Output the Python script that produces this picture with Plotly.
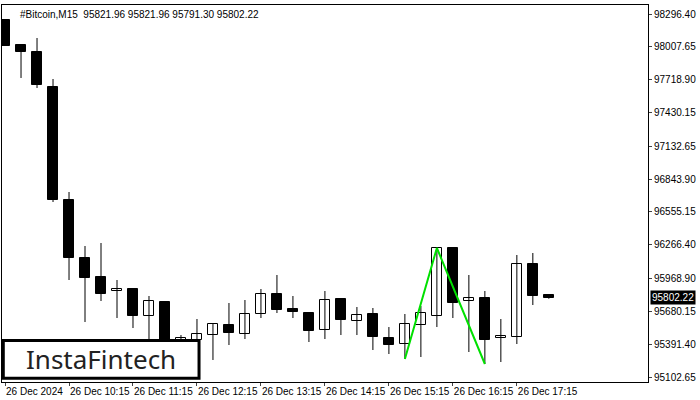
import plotly.graph_objects as go

opens  = [98243.6,98023.7,97962.1,97654.2,96660.0,96149.7,95982.6,95859.4,95877.0,95639.4,95762.6,95384.3,95428.3,95472.1,95560.0,95480.9,95657.0,95833.0,95701.0,95665.8,95516.1,95789.0,95595.4,95657.0,95445.7,95393.0,95560.0,95639.4,96237.7,95771.4,95797.8,95445.7,95454.5,96096.9,95821.96]
closes = [98014.9,97962.1,97671.8,96660.0,96149.7,95973.8,95833.0,95877.0,95639.4,95771.4,95340.3,95445.7,95480.9,95568.8,95489.7,95657.0,95833.0,95692.2,95674.6,95507.3,95780.2,95604.2,95648.2,95454.5,95384.3,95568.8,95665.8,96237.7,95753.8,95797.8,95428.3,95463.3,96096.9,95815.4,95802.22]
highs  = [98243.6,98023.7,98085.3,97724.6,96730.4,96255.3,96281.7,95956.2,95877.0,95815.4,95771.4,95472.1,95613.0,95568.8,95753.8,95780.2,95877.0,96000.1,95815.4,95665.8,95859.4,95789.0,95718.6,95709.8,95542.5,95657.0,95727.4,96237.7,96237.7,96000.1,95859.4,95613.0,96176.1,96193.7,95821.96]
lows   = [98014.9,97733.4,97645.4,96642.4,95956.2,95586.4,95771.4,95621.8,95533.7,95384.3,95252.4,95340.3,95296.3,95252.4,95384.3,95436.9,95621.8,95665.8,95621.8,95410.6,95436.9,95472.1,95472.1,95340.3,95305.1,95261.2,95278.7,95542.5,95621.8,95322.7,95217.2,95234.8,95393.0,95736.2,95791.30]
tick_idx = [0,4,8,12,16,20,24,28,32]
tick_labels = ["26 Dec 2024","26 Dec 10:15","26 Dec 11:15","26 Dec 12:15","26 Dec 13:15","26 Dec 14:15","26 Dec 15:15","26 Dec 16:15","26 Dec 17:15"]
y_ticks = [98296.40,98007.65,97718.90,97430.15,97132.65,96843.90,96555.15,96266.40,95968.90,95680.15,95391.40,95102.65]
pattern_x = [25,27,30]
pattern_y = [95261.2,96237.7,95217.2]
last_price = 95802.22

n = len(opens)
xs = list(range(n))
fig = go.Figure()
wx, wy = [], []
for i in xs:
    wx += [i, i, None]; wy += [lows[i], highs[i], None]
fig.add_trace(go.Scatter(x=wx, y=wy, mode="lines", line=dict(color="black", width=1), hoverinfo="skip"))
base = [min(o, c) for o, c in zip(opens, closes)]
h = [max(abs(c - o), 4) for o, c in zip(opens, closes)]
cols = ["white" if c >= o else "black" for o, c in zip(opens, closes)]
fig.add_trace(go.Bar(x=xs, y=h, base=base, width=0.62, marker=dict(color=cols, line=dict(color="black", width=1))))
fig.add_trace(go.Scatter(x=pattern_x, y=pattern_y, mode="lines", line=dict(color="#00e000", width=2)))
fig.add_hline(y=last_price, line=dict(color="black", width=1))

fig.update_layout(
    width=700, height=400, showlegend=False, plot_bgcolor="white", paper_bgcolor="white",
    margin=dict(l=2, r=52, t=5, b=18), bargap=0,
    font=dict(family="Liberation Sans", size=10, color="black"),
    xaxis=dict(range=[-0.19, 40.2], tickvals=tick_idx, ticktext=tick_labels, showgrid=False, zeroline=False,
               showline=True, mirror=True, linecolor="black", ticks="outside", ticklen=3,
               tickfont=dict(size=10), automargin=False, ticklabelposition="outside right", tickangle=0),
    yaxis=dict(range=[95058.8, 98375.6], side="right", tickvals=y_ticks, ticktext=[f"{v:.2f}" for v in y_ticks],
               showgrid=False, zeroline=False, showline=True, mirror=True, linecolor="black",
               ticks="outside", ticklen=3, tickfont=dict(size=10), automargin=False),
    shapes=[dict(type="rect", xref="paper", yref="paper", x0=0.002, x1=0.305, y0=0.01, y1=0.11,
                 fillcolor="white", line=dict(color="black", width=3), layer="above")],
    annotations=[
        dict(xref="paper", yref="paper", x=0.025, y=0.995, xanchor="left", yanchor="top", showarrow=False,
             text="#Bitcoin,M15  95821.96 95821.96 95791.30 95802.22", font=dict(size=10)),
        dict(xref="paper", yref="paper", x=0.153, y=0.06, xanchor="center", yanchor="middle", showarrow=False,
             text="InstaFintech", font=dict(size=26, color="#222", family="Noto Sans")),
        dict(xref="paper", yref="y", x=1.003, y=last_price, xanchor="left", yanchor="middle", showarrow=False,
             text=f"{last_price:.2f}", bgcolor="black", font=dict(color="white", size=10), borderpad=1),
    ],
)
fig.write_html("out.html", post_script="document.body.style.margin='0';", config={"displayModeBar": False})
